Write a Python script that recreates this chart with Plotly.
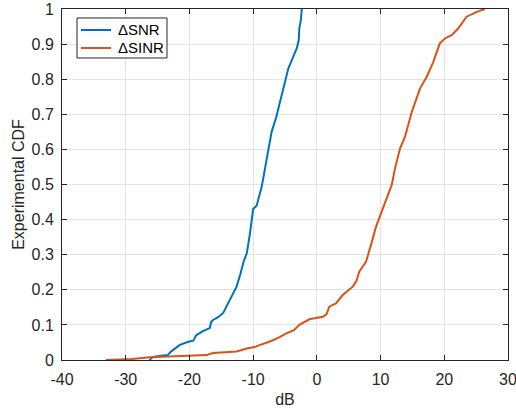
import plotly.graph_objects as go

# Delta SNR empirical CDF (dB, probability)
snr_x = [-26.3, -25.7, -24.5, -23.4, -22.9, -22.5, -21.5, -20.2, -19.4, -18.9, -17.8, -16.8, -16.6, -16.3,
         -15.5, -14.7, -13.6, -12.9, -12.6, -12.0, -11.5, -11.0, -10.5, -10.0, -9.44, -8.65,
         -8.1, -7.6, -7.1, -6.4, -5.78, -5.1, -4.47, -3.8, -3.16, -2.85, -2.75, -2.5, -2.37]
snr_y = [0.0, 0.009, 0.012, 0.014, 0.024, 0.03, 0.043, 0.052, 0.055, 0.071, 0.083, 0.091, 0.108, 0.114,
         0.122, 0.134, 0.171, 0.195, 0.209, 0.245, 0.28, 0.304, 0.36, 0.43, 0.44, 0.494,
         0.55, 0.603, 0.65, 0.69, 0.736, 0.78, 0.831, 0.86, 0.888, 0.91, 0.945, 0.97, 1.0]

# Delta SINR empirical CDF (dB, probability)
sinr_x = [-33.1, -29.0, -26.2, -22.6, -17.3, -16.3, -12.6, -11.0, -9.55, -8.9, -7.45, -6.0, -4.8, -3.6,
          -2.75, -1.18, 0.0, 0.92, 1.5, 1.96, 3.0, 4.06, 5.63, 6.2, 6.67, 7.72, 8.5, 9.29, 10.07,
          10.85, 11.2, 11.75, 12.27, 13.06, 13.84, 14.9, 16.2, 17.25, 18.3, 19.3, 20.1, 21.2,
          22.2, 23.5, 25.1, 26.4]
sinr_y = [0.0, 0.003, 0.008, 0.01, 0.014, 0.02, 0.024, 0.033, 0.038, 0.043, 0.052, 0.064, 0.076, 0.085,
          0.1, 0.116, 0.12, 0.123, 0.13, 0.152, 0.161, 0.185, 0.209, 0.225, 0.252, 0.28, 0.328, 0.38, 0.418,
          0.456, 0.47, 0.499, 0.546, 0.603, 0.636, 0.707, 0.774, 0.807, 0.85, 0.902, 0.916, 0.926,
          0.945, 0.978, 0.992, 1.0]

series_names = ["ΔSNR", "ΔSINR"]
series_colors = ["#0072BD", "#D95319"]

x_ticks = [-40, -30, -20, -10, 0, 10, 20, 30]
y_ticks = [0, 0.1, 0.2, 0.3, 0.4, 0.5, 0.6, 0.7, 0.8, 0.9, 1]

font_family = "Liberation Sans, Arial, sans-serif"
axis_col = "#262626"
grid_col = "#e3e3e3"

fig = go.Figure()
for xs, ys, nm, col in [(snr_x, snr_y, series_names[0], series_colors[0]),
                        (sinr_x, sinr_y, series_names[1], series_colors[1])]:
    fig.add_trace(go.Scatter(x=xs, y=ys, mode="lines", name=nm,
                             line=dict(color=col, width=2), showlegend=False))

axis_common = dict(showline=True, linecolor=axis_col, linewidth=1, mirror="ticks",
                   ticks="inside", ticklen=5, tickcolor=axis_col, showgrid=True,
                   gridcolor=grid_col, gridwidth=1, zeroline=False, automargin=False,
                   ticklabeloverflow="allow",
                   tickfont=dict(family=font_family, size=16, color=axis_col))

fig.update_xaxes(range=[-40, 30], tickvals=x_ticks, ticktext=[str(v) for v in x_ticks],
                 ticklabelstandoff=5,
                 title=dict(text="dB", font=dict(family=font_family, size=16, color=axis_col), standoff=8),
                 **axis_common)
fig.update_yaxes(range=[0, 1], tickvals=y_ticks, ticktext=[("%g" % v) for v in y_ticks],
                 ticklabelstandoff=4,
                 title=dict(text="Experimental CDF", font=dict(family=font_family, size=16, color=axis_col), standoff=2),
                 **axis_common)

# Manual legend box (MATLAB style), positioned in paper coordinates
shapes = [dict(type="rect", xref="paper", yref="paper", x0=0.0336, x1=0.2354, y0=0.8604, y1=0.9744,
               line=dict(color=axis_col, width=1), fillcolor="white", layer="above")]
annotations = []
row_y = [0.9402, 0.8889]
for nm, col, yy in zip(series_names, series_colors, row_y):
    shapes.append(dict(type="line", xref="paper", yref="paper", x0=0.0426, x1=0.1099, y0=yy, y1=yy,
                       line=dict(color=col, width=2), layer="above"))
    annotations.append(dict(xref="paper", yref="paper", x=0.1211, y=yy, text=nm, showarrow=False,
                            xanchor="left", yanchor="middle",
                            font=dict(family=font_family, size=15, color="black")))

fig.update_layout(
    width=516, height=408,
    margin=dict(l=62, r=8, t=9, b=48),
    paper_bgcolor="white", plot_bgcolor="white",
    font=dict(family=font_family, size=14, color=axis_col),
    shapes=shapes, annotations=annotations,
    showlegend=False,
)

fig.write_html("out.html")
